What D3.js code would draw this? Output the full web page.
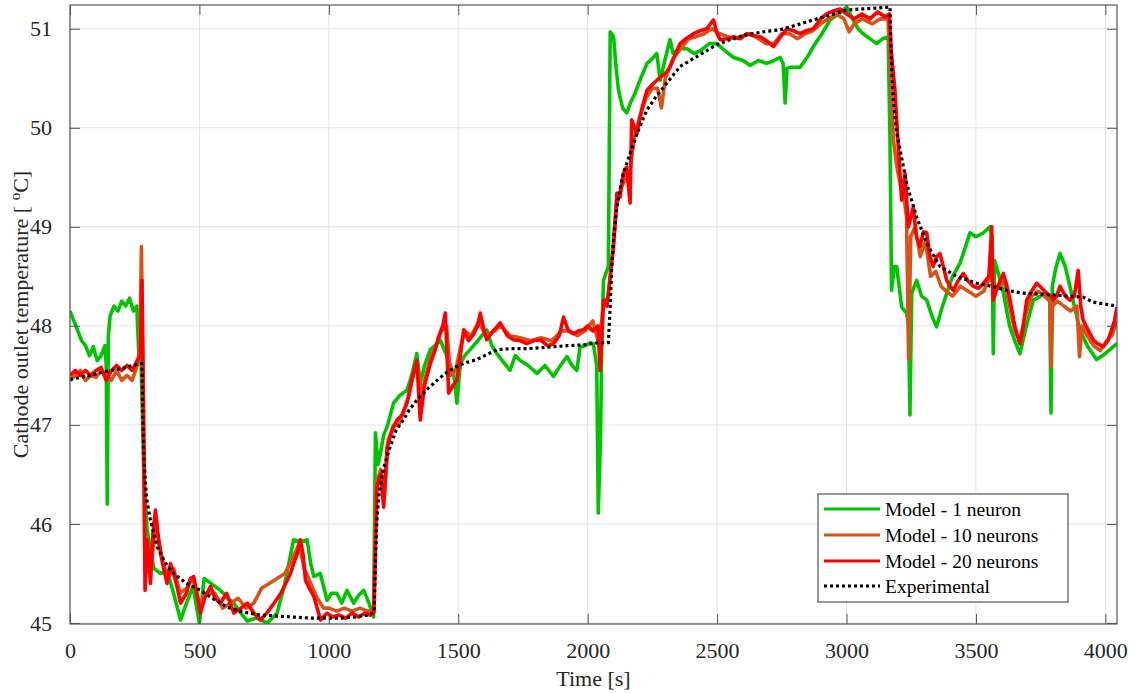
<!DOCTYPE html>
<html><head><meta charset="utf-8">
<script src="https://cdn.jsdelivr.net/npm/d3@7"></script>
<style>body{margin:0;background:#fff}svg{display:block}text{font-family:"Liberation Serif","Times New Roman",serif}</style>
</head><body><svg id="c" width="1138" height="693"></svg>
<script>
const xTicks=[0,500,1000,1500,2000,2500,3000,3500,4000];
const yTicks=[45,46,47,48,49,50,51];
const seriesNames=["Model - 1 neuron","Model - 10 neurons","Model - 20 neurons","Experimental"];
const model1=[[0,48.15],[15,48.05],[30,47.95],[45,47.85],[60,47.8],[75,47.7],[90,47.79],[105,47.65],[120,47.7],[135,47.8],[140,47.6],[144,46.2],[148,47.9],[155,48.1],[170,48.2],[185,48.15],[200,48.25],[215,48.2],[230,48.28],[245,48.15],[258,48.2],[266,47.7],[275,47.6],[285,46.5],[298,45.94],[310,45.75],[324,45.55],[350,45.5],[375,45.53],[400,45.3],[427,45.03],[450,45.2],[475,45.37],[500,45.0],[518,45.45],[545,45.4],[581,45.33],[610,45.25],[633,45.2],[660,45.1],[685,45.02],[720,45.05],[763,45.0],[800,45.1],[830,45.4],[864,45.84],[890,45.82],[916,45.84],[930,45.6],[942,45.47],[967,45.5],[993,45.23],[1010,45.3],[1031,45.3],[1050,45.2],[1070,45.33],[1096,45.2],[1115,45.28],[1135,45.33],[1155,45.2],[1173,45.06],[1180,46.92],[1190,46.6],[1199,46.71],[1212,46.9],[1225,46.98],[1250,47.22],[1275,47.3],[1302,47.35],[1320,47.5],[1340,47.72],[1353,47.42],[1370,47.6],[1392,47.76],[1410,47.8],[1430,47.86],[1455,47.7],[1482,47.52],[1495,47.22],[1508,47.62],[1525,47.7],[1546,47.76],[1575,47.85],[1610,47.96],[1630,47.8],[1649,47.72],[1670,47.65],[1700,47.55],[1720,47.7],[1739,47.65],[1770,47.6],[1804,47.52],[1835,47.6],[1868,47.49],[1895,47.6],[1920,47.69],[1940,47.6],[1958,47.55],[1971,47.79],[1990,47.8],[2010,47.83],[2022,47.82],[2035,47.59],[2041,46.11],[2050,46.92],[2054,47.75],[2061,48.46],[2080,48.6],[2087,50.97],[2100,50.92],[2110,50.6],[2119,50.38],[2135,50.2],[2151,50.15],[2165,50.25],[2183,50.35],[2205,50.5],[2229,50.65],[2250,50.7],[2267,50.75],[2280,50.48],[2300,50.7],[2318,50.89],[2330,50.75],[2355,50.8],[2383,50.8],[2410,50.75],[2435,50.78],[2470,50.85],[2499,50.85],[2530,50.78],[2564,50.71],[2600,50.68],[2628,50.63],[2660,50.68],[2692,50.65],[2720,50.68],[2743,50.71],[2755,50.65],[2763,50.25],[2770,50.6],[2782,50.61],[2820,50.61],[2850,50.72],[2872,50.82],[2905,50.95],[2937,51.09],[2970,51.15],[3001,51.22],[3025,51.09],[3045,51.0],[3064,50.95],[3090,50.9],[3116,50.85],[3140,50.9],[3161,50.92],[3168,49.88],[3174,48.36],[3185,48.6],[3194,48.6],[3213,48.19],[3232,48.13],[3240,48.0],[3245,47.1],[3252,48.33],[3271,48.46],[3290,48.3],[3310,48.26],[3330,48.1],[3348,47.99],[3365,48.15],[3387,48.33],[3410,48.5],[3438,48.63],[3460,48.8],[3477,48.94],[3500,48.9],[3529,48.94],[3554,49.0],[3562,48.9],[3567,47.72],[3572,48.66],[3590,48.5],[3606,48.33],[3630,48.0],[3650,47.85],[3670,47.72],[3695,48.0],[3722,48.26],[3750,48.3],[3773,48.33],[3785,48.3],[3790,47.12],[3795,48.4],[3810,48.6],[3825,48.73],[3845,48.6],[3863,48.4],[3880,48.2],[3902,47.96],[3930,47.8],[3966,47.66],[3990,47.7],[4017,47.76],[4045,47.82]];
const model10=[[0,47.45],[20,47.5],[40,47.55],[60,47.45],[80,47.5],[100,47.48],[120,47.55],[140,47.5],[160,47.45],[180,47.55],[200,47.45],[220,47.5],[240,47.45],[260,47.6],[270,47.8],[276,48.8],[282,47.5],[290,45.5],[300,45.7],[315,45.6],[330,46.0],[345,45.8],[360,45.6],[380,45.45],[400,45.55],[425,45.3],[450,45.35],[475,45.45],[500,45.2],[530,45.3],[560,45.3],[590,45.15],[620,45.2],[650,45.25],[680,45.15],[710,45.2],[740,45.35],[770,45.4],[800,45.45],[830,45.5],[860,45.65],[885,45.8],[905,45.55],[930,45.4],[955,45.25],[980,45.15],[1000,45.15],[1030,45.12],[1060,45.15],[1090,45.12],[1120,45.15],[1150,45.12],[1175,45.12],[1183,46.4],[1200,46.55],[1215,46.3],[1230,46.85],[1250,47.0],[1270,47.0],[1290,47.15],[1310,47.3],[1330,47.55],[1345,47.55],[1358,47.3],[1375,47.5],[1395,47.7],[1415,47.8],[1435,47.95],[1455,48.0],[1470,47.5],[1490,47.55],[1510,47.8],[1525,47.95],[1550,47.9],[1580,48.05],[1605,47.9],[1640,47.95],[1665,48.0],[1700,47.9],[1740,47.88],[1780,47.85],[1820,47.88],[1860,47.85],[1900,47.95],[1930,47.95],[1960,47.9],[1990,47.95],[2020,48.05],[2045,47.8],[2060,48.2],[2080,48.3],[2095,48.7],[2110,49.2],[2130,49.4],[2150,49.5],[2165,49.6],[2180,49.9],[2200,50.1],[2225,50.3],[2250,50.4],[2270,50.4],[2285,50.2],[2300,50.5],[2330,50.7],[2360,50.8],[2390,50.9],[2420,50.92],[2450,50.95],[2480,51.0],[2510,50.95],[2540,50.92],[2570,50.9],[2600,50.93],[2630,50.95],[2660,50.9],[2690,50.85],[2720,50.85],[2750,50.95],[2780,50.95],[2810,50.9],[2840,50.95],[2870,50.98],[2900,51.05],[2930,51.1],[2960,51.15],[2990,51.1],[3010,50.97],[3030,51.05],[3060,51.1],[3100,51.05],[3130,51.1],[3160,51.1],[3170,50.6],[3181,49.88],[3195,49.6],[3210,49.4],[3222,49.3],[3232,49.1],[3240,47.66],[3248,48.9],[3265,49.0],[3285,48.7],[3305,48.85],[3325,48.5],[3345,48.55],[3365,48.4],[3385,48.35],[3410,48.3],[3440,48.4],[3470,48.35],[3500,48.3],[3530,48.35],[3555,48.5],[3570,48.4],[3590,48.4],[3610,48.45],[3630,48.2],[3650,47.95],[3670,47.85],[3690,48.1],[3715,48.3],[3740,48.35],[3765,48.3],[3785,48.25],[3790,47.59],[3796,48.2],[3815,48.25],[3840,48.2],[3865,48.15],[3890,48.2],[3900,47.69],[3910,48.0],[3930,47.9],[3955,47.8],[3980,47.75],[4005,47.85],[4025,47.9],[4045,48.05]];
const model20=[[0,47.5],[20,47.55],[40,47.5],[60,47.55],[80,47.5],[100,47.55],[120,47.58],[140,47.45],[160,47.55],[180,47.6],[200,47.55],[220,47.6],[240,47.55],[260,47.65],[272,47.7],[278,48.46],[284,47.2],[290,45.33],[298,45.84],[311,45.4],[320,45.9],[330,46.14],[340,45.9],[350,45.7],[362,45.55],[375,45.4],[388,45.6],[401,45.5],[415,45.35],[427,45.2],[450,45.3],[465,45.45],[478,45.47],[490,45.3],[504,45.1],[520,45.25],[543,45.37],[560,45.25],[581,45.2],[605,45.3],[633,45.1],[660,45.15],[685,45.2],[710,45.1],[736,45.03],[760,45.1],[788,45.2],[815,45.3],[839,45.43],[852,45.5],[864,45.6],[878,45.7],[890,45.84],[900,45.7],[910,45.43],[925,45.35],[942,45.27],[955,45.15],[968,45.03],[993,45.1],[1015,45.06],[1040,45.08],[1065,45.05],[1090,45.1],[1115,45.06],[1140,45.1],[1160,45.08],[1173,45.1],[1180,45.8],[1186,46.38],[1200,46.5],[1212,46.17],[1225,46.78],[1245,46.95],[1263,47.05],[1283,47.1],[1302,47.22],[1320,47.45],[1340,47.65],[1353,47.05],[1370,47.4],[1392,47.62],[1410,47.75],[1424,47.89],[1440,48.0],[1450,48.13],[1463,47.32],[1480,47.4],[1495,47.45],[1508,47.7],[1521,47.96],[1540,47.85],[1560,47.92],[1575,48.0],[1585,48.13],[1600,47.95],[1610,47.86],[1635,47.95],[1662,48.03],[1690,47.9],[1713,47.86],[1740,47.85],[1765,47.82],[1790,47.85],[1817,47.86],[1845,47.8],[1868,47.82],[1890,47.9],[1907,48.09],[1925,47.95],[1945,47.92],[1965,47.95],[1984,47.96],[2000,48.0],[2020,47.95],[2040,48.0],[2048,47.55],[2055,47.9],[2061,48.26],[2074,48.2],[2087,48.5],[2100,48.8],[2113,49.34],[2125,49.3],[2138,49.54],[2150,49.6],[2164,49.24],[2170,50.08],[2190,49.94],[2210,50.2],[2229,50.38],[2255,50.45],[2280,50.51],[2300,50.55],[2318,50.61],[2340,50.75],[2357,50.85],[2380,50.9],[2409,50.95],[2435,50.98],[2460,51.0],[2486,51.09],[2500,50.95],[2512,50.89],[2540,50.9],[2564,50.92],[2590,50.9],[2615,50.95],[2640,50.93],[2666,50.92],[2690,50.88],[2718,50.82],[2740,50.9],[2769,51.0],[2795,50.98],[2820,50.95],[2845,50.98],[2872,51.0],[2900,51.1],[2923,51.15],[2950,51.18],[2975,51.2],[3000,51.15],[3030,51.1],[3060,51.15],[3090,51.1],[3120,51.17],[3150,51.12],[3165,51.15],[3172,50.8],[3187,50.38],[3200,49.81],[3213,49.27],[3226,49.54],[3239,49.0],[3258,49.2],[3270,48.9],[3284,48.8],[3297,48.95],[3310,48.94],[3322,48.7],[3335,48.6],[3348,48.7],[3361,48.73],[3374,48.6],[3387,48.46],[3400,48.4],[3413,48.36],[3430,48.45],[3451,48.53],[3470,48.45],[3490,48.4],[3510,48.38],[3529,48.43],[3550,48.5],[3561,49.0],[3566,48.26],[3585,48.4],[3606,48.53],[3620,48.4],[3632,48.26],[3650,48.0],[3660,47.9],[3670,47.82],[3683,48.0],[3696,48.26],[3715,48.35],[3735,48.43],[3755,48.38],[3773,48.33],[3790,48.3],[3799,48.26],[3812,48.3],[3825,48.4],[3845,48.3],[3863,48.26],[3880,48.3],[3895,48.56],[3905,48.2],[3914,48.06],[3935,47.95],[3953,47.86],[3970,47.82],[3992,47.79],[4010,47.85],[4024,47.96],[4035,48.05],[4045,48.19]];
const experimental=[[0,47.46],[40,47.48],[80,47.5],[120,47.53],[160,47.55],[200,47.57],[240,47.6],[278,47.62],[282,47.0],[287,46.6],[295,46.27],[310,46.05],[337,45.77],[370,45.6],[400,45.5],[450,45.4],[504,45.33],[550,45.25],[607,45.16],[670,45.11],[735,45.08],[800,45.07],[863,45.06],[930,45.05],[994,45.05],[1050,45.05],[1100,45.06],[1150,45.08],[1175,45.11],[1180,45.6],[1185,46.0],[1192,46.27],[1210,46.55],[1237,46.78],[1260,46.95],[1288,47.05],[1310,47.15],[1340,47.25],[1380,47.36],[1418,47.45],[1455,47.53],[1495,47.59],[1530,47.63],[1572,47.66],[1610,47.71],[1650,47.76],[1700,47.77],[1765,47.77],[1820,47.78],[1868,47.79],[1920,47.8],[1997,47.81],[2040,47.83],[2080,47.83],[2087,48.2],[2093,48.6],[2100,48.87],[2113,49.2],[2125,49.38],[2138,49.54],[2164,49.74],[2190,49.94],[2229,50.18],[2260,50.3],[2293,50.41],[2357,50.62],[2422,50.72],[2499,50.84],[2560,50.9],[2615,50.94],[2680,50.97],[2743,50.99],[2810,51.04],[2872,51.09],[2940,51.14],[3001,51.19],[3060,51.2],[3120,51.21],[3168,51.22],[3174,50.62],[3181,50.28],[3194,49.95],[3207,49.78],[3232,49.44],[3271,49.1],[3310,48.83],[3361,48.6],[3425,48.5],[3503,48.43],[3560,48.4],[3618,48.36],[3682,48.33],[3750,48.32],[3811,48.31],[3914,48.29],[3953,48.24],[4000,48.22],[4045,48.2]];

const colors=["#00c400","#d95319","#ff0000","#000000"];
const W=1138,H=693,m={l:70,r:21,t:5,b:69};
const svg=d3.select("#c");
const x=d3.scaleLinear().domain([0,4045]).range([m.l,W-m.r]);
const y=d3.scaleLinear().domain([44.99,51.24]).range([H-m.b,m.t]);
const axc="#555";
const g=svg.append("g");
g.selectAll("line.vx").data(xTicks).join("line").attr("x1",d=>x(d)).attr("x2",d=>x(d)).attr("y1",m.t).attr("y2",H-m.b).attr("stroke","#e3e3e3").attr("stroke-width",1);
g.selectAll("line.hy").data(yTicks).join("line").attr("y1",d=>y(d)).attr("y2",d=>y(d)).attr("x1",m.l).attr("x2",W-m.r).attr("stroke","#e3e3e3").attr("stroke-width",1);
svg.append("defs").append("clipPath").attr("id","clip").append("rect").attr("x",m.l).attr("y",m.t).attr("width",W-m.l-m.r).attr("height",H-m.t-m.b);
const line=d3.line().x(d=>x(d[0])).y(d=>y(d[1]));
const data=[model1,model10,model20,experimental];
const pg=svg.append("g").attr("clip-path","url(#clip)");
data.forEach((s,i)=>{
  const p=pg.append("path").datum(s).attr("d",line).attr("fill","none").attr("stroke",colors[i]).attr("stroke-width",3.6).attr("stroke-linejoin","round");
  if(i===3) p.attr("stroke-dasharray","3,3").attr("stroke-width",3.2);
});
const ax=svg.append("g");
const xb=d3.axisBottom(x).tickValues(xTicks).tickSize(-10).tickPadding(18).tickFormat(d3.format("d"));
const xt=d3.axisTop(x).tickValues(xTicks).tickSize(-10).tickFormat("");
const yl=d3.axisLeft(y).tickValues(yTicks).tickSize(-10).tickPadding(18).tickFormat(d3.format("d"));
const yr=d3.axisRight(y).tickValues(yTicks).tickSize(-10).tickFormat("");
const gb=ax.append("g").attr("transform",`translate(0,${H-m.b})`).call(xb);
const gt=ax.append("g").attr("transform",`translate(0,${m.t})`).call(xt);
const gl=ax.append("g").attr("transform",`translate(${m.l},0)`).call(yl);
const gr=ax.append("g").attr("transform",`translate(${W-m.r},0)`).call(yr);
[gb,gt,gl,gr].forEach(a=>{a.select(".domain").remove();a.selectAll("line").attr("stroke",axc);a.selectAll("text").attr("fill","#262626").style("font-size","22px").style("font-family","'Liberation Serif',serif");});
gb.selectAll("text").attr("dy","0.71em");
ax.append("rect").attr("x",m.l).attr("y",m.t).attr("width",W-m.l-m.r).attr("height",H-m.t-m.b).attr("fill","none").attr("stroke",axc).attr("stroke-width",1.2);
svg.append("text").attr("x",(m.l+W-m.r)/2).attr("y",686).attr("text-anchor","middle").attr("fill","#262626").style("font-size","22px").text("Time [s]");
const yt=svg.append("text").attr("transform",`translate(28,${(m.t+H-m.b)/2}) rotate(-90)`).attr("text-anchor","middle").attr("fill","#262626").style("font-size","22px");
yt.append("tspan").text("Cathode outlet temperature [ ");
yt.append("tspan").attr("baseline-shift","super").style("font-size","15px").text("o");
yt.append("tspan").text("C]");
const lg=svg.append("g");
lg.append("rect").attr("x",818).attr("y",494).attr("width",250).attr("height",108).attr("fill","#fff").attr("stroke","#333").attr("stroke-width",1);
const rows=[509,535,561,586];
seriesNames.forEach((n,i)=>{
  const l=lg.append("line").attr("x1",824).attr("x2",880).attr("y1",rows[i]).attr("y2",rows[i]).attr("stroke",colors[i]).attr("stroke-width",3);
  if(i===3) l.attr("stroke-dasharray","3,3");
  lg.append("text").attr("x",885).attr("y",rows[i]).attr("dy","0.35em").attr("fill","#000").style("font-size","19.5px").text(n);
});
</script></body></html>
